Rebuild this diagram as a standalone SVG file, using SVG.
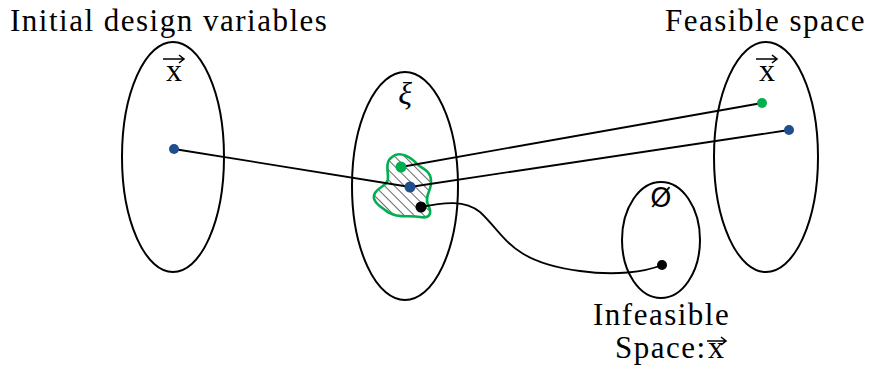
<svg xmlns="http://www.w3.org/2000/svg" width="869" height="370" viewBox="0 0 869 370">
<defs>
<style>
.sh{fill:none;stroke:#000;stroke-width:2}
.ln{fill:none;stroke:#000;stroke-width:1.8}
.t{font-size:31px;fill:#000;letter-spacing:1.5px}
.vx{font-size:32px;fill:#000}
.va{fill:none;stroke:#000;stroke-width:1.6}
.g{fill:#00b050}
.b{fill:#1f4e8c}
.k{fill:#000}
</style>
<pattern id="hatch" patternUnits="userSpaceOnUse" width="7" height="7" patternTransform="rotate(-45)">
<line x1="0" y1="0" x2="0" y2="7" stroke="#000" stroke-width="1.2"/>
</pattern>
</defs>
<rect width="869" height="370" fill="#fff"/>
<g font-family="Liberation Serif, serif">
<g id="initial">
<ellipse class="sh" cx="173" cy="157" rx="51" ry="115"/>
<text class="t" x="10" y="31">Initial design variables</text>
<text class="vx" x="174" y="81" text-anchor="middle">x</text>
<path class="va" d="M163,59 H184 M179,55 L184,59 L179,63"/>
</g>
<g id="xi">
<ellipse class="sh" cx="405" cy="186" rx="53" ry="114"/>
<text class="vx" x="405" y="104" text-anchor="middle" font-style="italic" font-size="34">ξ</text>
<path d="M392,157 C400,150 412,158 418,165 C425,170 431,172 431,181 C432,190 424,196 428,205 C432,212 431,219 420,217 C409,215 395,219 385,210 C378,205 371,200 375,193 C379,186 388,186 388,178 C388,170 385,162 392,157 Z" fill="url(#hatch)" stroke="#00b050" stroke-width="2.6"/>
</g>
<g id="infeasible">
<ellipse class="sh" cx="661" cy="240" rx="39" ry="58"/>
<text x="661" y="207" text-anchor="middle" font-family="DejaVu Sans, sans-serif" font-size="27">Ø</text>
<text class="t" x="593" y="325">Infeasible</text>
<text class="t" x="615" y="358">Space:</text>
<text class="vx" x="716" y="358" text-anchor="middle">x</text>
<path class="va" d="M707,341 H726 M721,337 L726,341 L721,345"/>
</g>
<g id="feasible">
<ellipse class="sh" cx="766" cy="157" rx="52" ry="115"/>
<text class="t" x="665" y="31">Feasible space</text>
<text class="vx" x="767" y="81" text-anchor="middle">x</text>
<path class="va" d="M756,59 H777 M772,55 L777,59 L772,63"/>
</g>
</g>
<g id="connectors">
<line class="ln" x1="174" y1="149" x2="410" y2="187"/>
<line class="ln" x1="410" y1="187" x2="789" y2="130"/>
<line class="ln" x1="401" y1="167" x2="762" y2="103"/>
<path class="ln" d="M421,207 C445,202 465,200 480,212 C505,235 510,262 580,271 C615,276 645,272 662,265"/>
</g>
<g id="dots">
<circle class="b" cx="174" cy="149" r="5"/>
<circle class="g" cx="762" cy="103" r="5"/>
<circle class="b" cx="789" cy="130" r="5"/>
<circle class="g" cx="401" cy="167" r="5.5"/>
<circle class="b" cx="410" cy="187" r="5.5"/>
<circle class="k" cx="421" cy="207" r="5.5"/>
<circle class="k" cx="662" cy="265" r="5"/>
</g>
</svg>
